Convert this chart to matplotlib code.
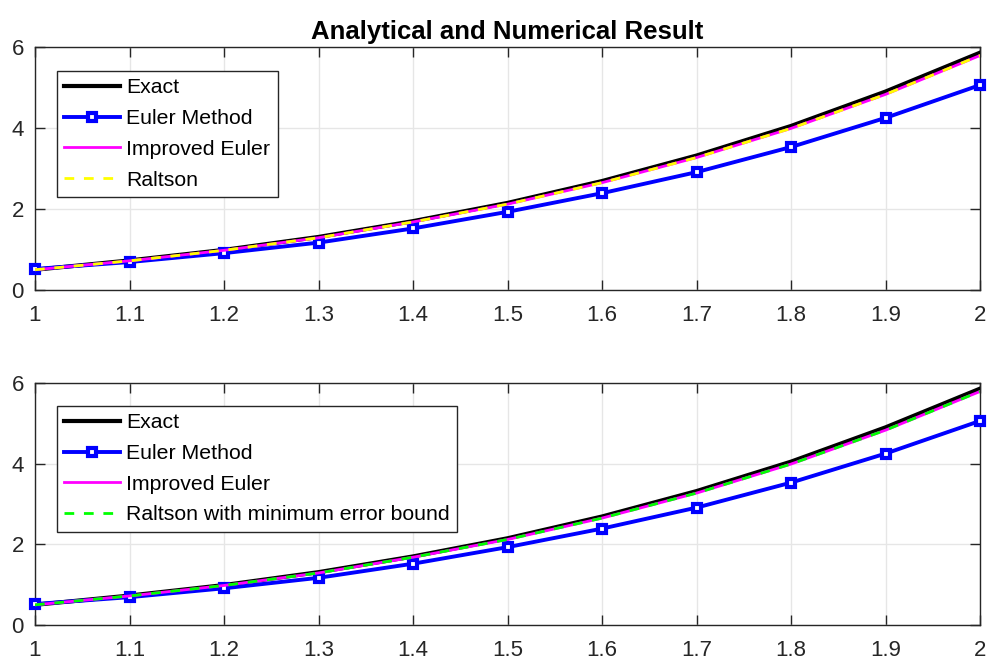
import numpy as np
import matplotlib
matplotlib.use('Agg')
import matplotlib.pyplot as plt

plt.rcParams['font.family'] = ['Liberation Sans', 'DejaVu Sans']

# datos (paso h = 0.1)
x = [1.0, 1.1, 1.2, 1.3, 1.4, 1.5, 1.6, 1.7, 1.8, 1.9, 2.0]
y_exacta = [0.5, 0.73, 0.99, 1.31, 1.70, 2.15, 2.69, 3.32, 4.05, 4.90, 5.86]
y_euler = [0.52, 0.69, 0.91, 1.17, 1.52, 1.93, 2.39, 2.91, 3.53, 4.25, 5.06]
y_euler_mejorado = [0.5, 0.72, 0.98, 1.29, 1.68, 2.12, 2.65, 3.27, 3.99, 4.83, 5.79]
y_raltson = [0.5, 0.72, 0.98, 1.29, 1.68, 2.12, 2.65, 3.27, 3.99, 4.83, 5.79]
y_raltson_min = [0.5, 0.72, 0.98, 1.29, 1.68, 2.12, 2.65, 3.27, 3.99, 4.83, 5.79]

xticks = [1, 1.1, 1.2, 1.3, 1.4, 1.5, 1.6, 1.7, 1.8, 1.9, 2]
xticklabels = ['1', '1.1', '1.2', '1.3', '1.4', '1.5', '1.6', '1.7', '1.8', '1.9', '2']
yticks = [0, 2, 4, 6]

gris = '#262626'

fig = plt.figure(figsize=(9.88, 6.61), dpi=100)
W, H = 988, 661


def ejes(left, top, right, bottom):
    return fig.add_axes([left / W, 1 - bottom / H, (right - left) / W, (bottom - top) / H])


def graficar(ax, y_ralt, color_ralt, nombre_ralt, leg_top):
    ax.plot(x, y_exacta, color='black', lw=3, label='Exact', zorder=3)
    ax.plot(x, y_euler, color='blue', lw=2.8, marker='s', ms=6, mfc='white', mec='blue',
            mew=3, label='Euler Method', zorder=4, clip_on=False)
    ax.plot(x, y_euler_mejorado, color='magenta', lw=2, label='Improved Euler', zorder=5)
    ax.plot(x, y_ralt, color=color_ralt, lw=2, ls=(0, (3.5, 3.5)), label=nombre_ralt, zorder=6)
    ax.set_xlim(1, 2)
    ax.set_ylim(0, 6)
    ax.set_xticks(xticks)
    ax.set_xticklabels(xticklabels)
    ax.set_yticks(yticks)
    ax.grid(True, color='#e6e6e6', lw=1)
    ax.set_axisbelow(True)
    ax.tick_params(direction='in', length=7, width=1, colors=gris, labelsize=16,
                   top=True, right=True, pad=11)
    ax.tick_params(axis='y', pad=8)
    for s in ax.spines.values():
        s.set_color(gris)
        s.set_linewidth(1)
    leg = ax.legend(loc='upper left', bbox_to_anchor=(0.0233, leg_top), borderaxespad=0,
                    fontsize=15.3, fancybox=False, framealpha=1, edgecolor=gris,
                    handlelength=2.6, handletextpad=0.3, labelspacing=0.55,
                    borderpad=0.35)
    leg.get_frame().set_linewidth(1)
    return ax


ax1 = ejes(35, 47, 980, 290)
graficar(ax1, y_raltson, 'yellow', 'Raltson', 0.901)
ax1.set_title('Analytical and Numerical Result', fontsize=18.5, fontweight='bold', pad=6)

ax2 = ejes(35, 383, 980, 625)
graficar(ax2, y_raltson_min, '#00ff00', 'Raltson with minimum error bound', 0.905)

fig.savefig('out.png', dpi=100)
